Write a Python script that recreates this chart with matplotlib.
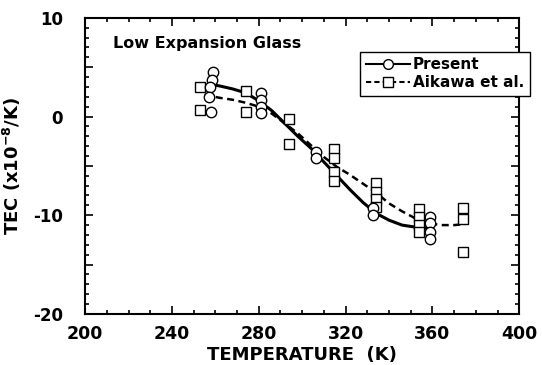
import matplotlib
matplotlib.use("Agg")
import matplotlib.pyplot as plt
from matplotlib.ticker import MultipleLocator, FuncFormatter

# measured points, present work (circles)
present_T = [259, 258.5, 257.5, 257, 258, 281, 281, 281, 281,
             306.5, 306.5, 332.5, 332.5, 359, 359, 359, 359]
present_tec = [4.5, 3.7, 3.0, 2.0, 0.5, 2.4, 1.7, 1.0, 0.4,
               -3.6, -4.2, -9.3, -10.0, -10.2, -10.8, -11.7, -12.4]

# Aikawa et al. (squares)
aikawa_T = [253, 253, 274, 274, 294, 294, 314.5, 314.5, 314.5, 314.5,
            334, 334, 334, 334, 354, 354, 354, 354, 374, 374, 374]
aikawa_tec = [3.0, 0.7, 2.6, 0.5, -0.2, -2.8, -3.3, -4.2, -5.6, -6.5,
              -6.7, -7.6, -8.4, -9.2, -9.4, -10.2, -11.0, -11.7, -9.3, -10.4, -13.7]

# fitted curves
present_fit_T = [257, 262, 268, 274, 280, 286, 292, 298, 304, 310,
                 316, 322, 328, 334, 340, 346, 352, 357]
present_fit = [3.3, 3.1, 2.8, 2.4, 1.6, 0.6, -0.7, -2.0, -3.2, -4.6,
               -6.0, -7.4, -8.7, -9.8, -10.5, -11.0, -11.2, -11.3]

aikawa_fit_T = [255, 262, 268, 274, 280, 286, 292, 298, 304, 310, 316,
                322, 328, 334, 340, 346, 352, 358, 364, 370, 375]
aikawa_fit = [2.2, 1.9, 1.7, 1.4, 1.0, 0.3, -0.7, -1.7, -2.9, -4.1, -5.1,
              -5.9, -6.8, -7.7, -8.8, -9.6, -10.3, -10.8, -11.0, -11.0, -10.9]

plt.rcParams['font.family'] = ['DejaVu Sans']
plt.rcParams['font.weight'] = 'bold'
plt.rcParams['mathtext.default'] = 'bf'

fig = plt.figure(figsize=(5.42, 3.65), dpi=100)
ax = fig.add_axes([0.157, 0.140, 0.801, 0.811])

ax.plot(present_fit_T, present_fit, color='black', lw=2.2, zorder=2)
ax.plot(aikawa_fit_T, aikawa_fit, color='black', lw=1.8, dashes=(2.8, 1.8), zorder=2)

ax.plot(aikawa_T, aikawa_tec, ls='none', marker='s', ms=7, mfc='white',
        mec='black', mew=1.0, zorder=3)
ax.plot(present_T, present_tec, ls='none', marker='o', ms=7.5, mfc='white',
        mec='black', mew=1.0, zorder=4)

# legend handles
h1, = ax.plot([], [], color='black', lw=1.5, marker='o', ms=7, mfc='white', mec='black')
h2, = ax.plot([], [], color='black', lw=1.5, dashes=(2.5, 1.5), marker='s', ms=6.5,
              mfc='white', mec='black')
leg = ax.legend([h1, h2], ['Present', 'Aikawa et al.'], loc='upper left',
                bbox_to_anchor=(0.634, 0.885), numpoints=1, handlelength=2.9,
                handletextpad=0.2, borderpad=0.35, labelspacing=0.2,
                borderaxespad=0, fancybox=False, framealpha=1,
                prop={'weight': 'bold', 'size': 11})
leg.get_frame().set_edgecolor('black')
leg.get_frame().set_linewidth(1.0)

ax.text(0.065, 0.915, 'Low Expansion Glass', transform=ax.transAxes,
        fontsize=11.5, fontweight='bold', va='center')

ax.set_xlim(200, 400)
ax.set_ylim(-20, 10)
ax.xaxis.set_major_locator(MultipleLocator(40))
ax.xaxis.set_minor_locator(MultipleLocator(10))
ax.yaxis.set_major_locator(MultipleLocator(5))
ax.yaxis.set_minor_locator(MultipleLocator(1))
ax.yaxis.set_major_formatter(FuncFormatter(
    lambda v, p: f'{int(v)}' if abs(v) % 10 == 0 else ''))

ax.tick_params(which='both', direction='in', top=True, right=True, width=1.2)
ax.tick_params(which='major', length=6)
ax.tick_params(which='minor', length=3)
ax.tick_params(axis='x', which='major', labelsize=12.5, pad=8)
ax.tick_params(axis='y', which='major', labelsize=12, pad=16)
for s in ax.spines.values():
    s.set_linewidth(1.5)

ax.set_xlabel('TEMPERATURE  (K)', fontsize=13, fontweight='bold', labelpad=2)
ax.set_ylabel('TEC (x10$^{-8}$/K)', fontsize=13, fontweight='bold')
ax.yaxis.set_label_coords(-0.143, 0.5)

fig.savefig('out.png', dpi=100)
